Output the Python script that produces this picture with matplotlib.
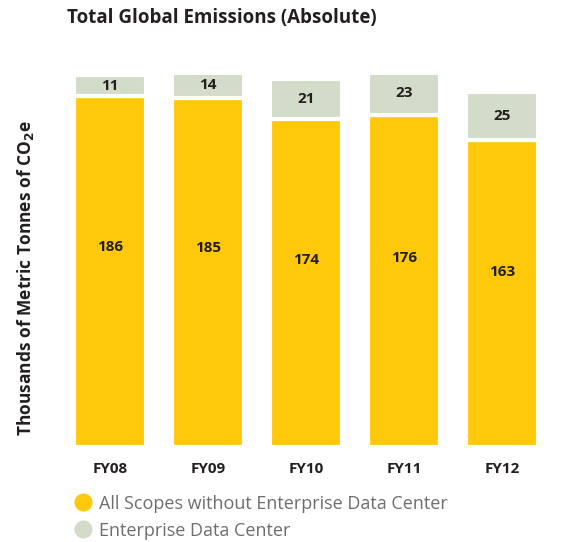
import numpy as np
import matplotlib
matplotlib.use("Agg")
import matplotlib.pyplot as plt
from matplotlib.lines import Line2D

# data
years = ["FY08", "FY09", "FY10", "FY11", "FY12"]
scopes = [186, 185, 174, 176, 163]       # all scopes without enterprise data center
datacenter = [11, 14, 21, 23, 25]        # enterprise data center

yellow = "#FFC80B"
grey = "#D2DCC8"
dark = "#231F20"

plt.rcParams['font.family'] = ['Open Sans', 'DejaVu Sans']

fig = plt.figure(figsize=(5.63, 5.42), dpi=100)
ax = fig.add_axes([0.124, 0.175, 0.844, 0.686])

x = np.arange(len(years))
ax.bar(x, scopes, width=0.73, color=yellow, edgecolor="white", linewidth=3)
ax.bar(x, datacenter, bottom=scopes, width=0.73, color=grey, edgecolor="white", linewidth=3)

for i in range(len(years)):
    ax.text(x[i], scopes[i] * 0.57, str(scopes[i]), ha="center", va="center",
            fontsize=11, fontweight="bold", color=dark)
    ax.text(x[i], scopes[i] + datacenter[i] / 2, str(datacenter[i]), ha="center", va="center",
            fontsize=11, fontweight="bold", color=dark)

ax.set_xlim(-0.41, 4.44)
ax.set_ylim(0, 197)
ax.set_xticks(x)
ax.set_xticklabels(years, fontsize=11, fontweight="bold", color=dark)
ax.tick_params(axis="x", length=0, pad=11)
ax.set_yticks([])
for s in ax.spines.values():
    s.set_visible(False)

fig.text(0.119, 0.967, "Total Global Emissions (Absolute)", fontsize=13.5, fontweight="bold",
         color=dark, ha="left", va="center")
fig.text(0.046, 0.487, r"Thousands of Metric Tonnes of CO$_\mathbf{2}$e", rotation=90,
         fontsize=12.5, fontweight="bold", color=dark, ha="center", va="center")

handles = [Line2D([], [], marker="o", ls="", markersize=12, color=yellow),
           Line2D([], [], marker="o", ls="", markersize=12, color=grey)]
fig.legend(handles, ["All Scopes without Enterprise Data Center", "Enterprise Data Center"],
           loc="upper left", bbox_to_anchor=(0.115, 0.104), frameon=False, fontsize=13,
           labelcolor="#6D6E71", handletextpad=0.4, labelspacing=0.5, borderpad=0,
           handlelength=1.0)

fig.savefig("out.png", dpi=100)
